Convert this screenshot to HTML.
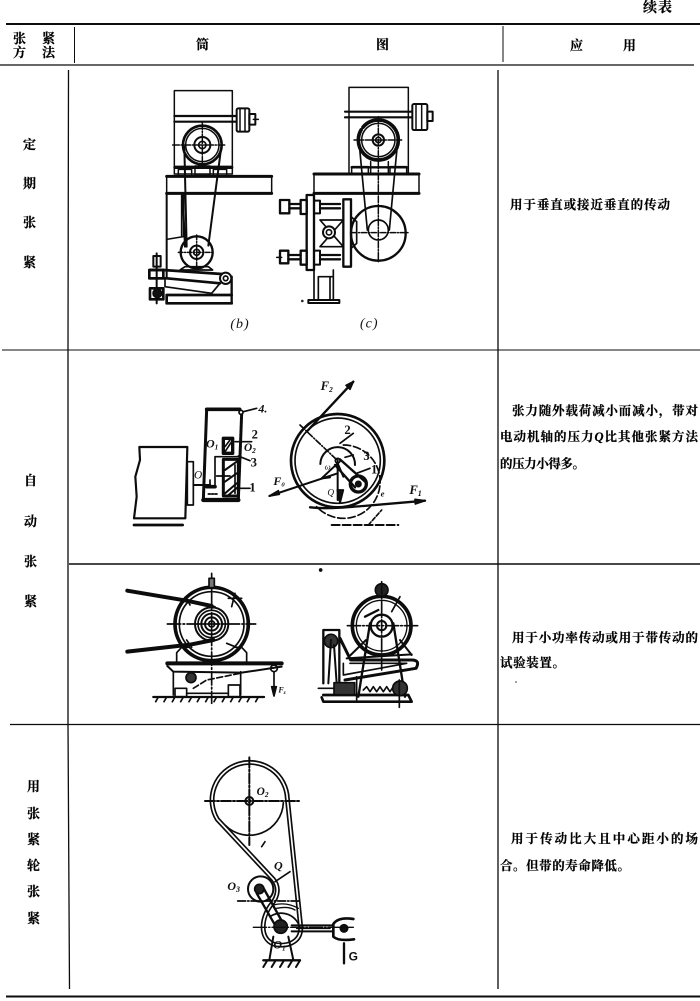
<!DOCTYPE html>
<html lang="zh"><head><meta charset="utf-8"><title>张紧方法</title>
<style>
html,body{margin:0;padding:0;background:#fff}
svg{display:block;filter:blur(.3px)}
.c{font-family:"Liberation Serif","Noto Serif CJK SC",serif;font-weight:700;fill:#000;stroke:#000;stroke-width:.22}
.l{font-family:"Liberation Serif",serif;font-style:italic;font-weight:700;fill:#111}
.d{fill:none;stroke:#0c0c0c;stroke-linecap:round;stroke-linejoin:round}
</style></head><body>
<svg width="700" height="1001" viewBox="0 0 700 1001" xmlns="http://www.w3.org/2000/svg">
<rect width="700" height="1001" fill="#fff"/>
<!-- table -->
<g class="d" style="stroke-linecap:butt">
<path d="M6 24H700" stroke-width="2"/>
<path d="M0 65H694" stroke-width="1.300"/>
<path d="M74.500 27V63M503 26V62" stroke-width="1"/>
<path d="M68.500 70L68 350L68 640L68 724L69.500 989" stroke-width="1.300"/>
<path d="M498 70V989" stroke-width="1.300"/>
<path d="M2 350H700" stroke-width="1.100"/>
<path d="M69 564H700" stroke-width="1.500"/>
<path d="M10 724.500H700" stroke-width="1.200"/>
<path d="M6 996.500H700" stroke-width="2"/>
</g>
<!-- text -->
<g class="c" font-size="13">
<text x="643" y="12" font-size="14" textLength="29">续表</text>
<text x="13" y="43">张</text><text x="42" y="43">紧</text>
<text x="13" y="57">方</text><text x="42" y="57">法</text>
<text x="196" y="49">筒</text><text x="376" y="49">图</text>
<text x="570" y="50">应</text><text x="623" y="50">用</text>
<text x="23" y="149">定</text><text x="23" y="188">期</text><text x="23" y="227">张</text><text x="23" y="267">紧</text>
<text x="24" y="485">自</text><text x="24" y="526">动</text><text x="24" y="566">张</text><text x="24" y="606">紧</text>
<text x="27" y="791">用</text><text x="27" y="818">张</text><text x="27" y="844">紧</text><text x="27" y="870">轮</text><text x="27" y="896">张</text><text x="27" y="923">紧</text>
</g>
<g class="c" font-size="12.500">
<text x="510" y="209" textLength="160" lengthAdjust="spacing">用于垂直或接近垂直的传动</text>
<text x="512" y="415" textLength="186" lengthAdjust="spacing">张力随外载荷减小而减小，带对</text>
<text x="500" y="441" textLength="198" lengthAdjust="spacing">电动机轴的压力<tspan font-style="italic">Q</tspan>比其他张紧方法</text>
<text x="500" y="468" textLength="85" lengthAdjust="spacing">的压力小得多。</text>
<text x="512" y="642" textLength="186" lengthAdjust="spacing">用于小功率传动或用于带传动的</text>
<text x="500" y="667" textLength="65" lengthAdjust="spacing">试验装置。</text>
<text x="511" y="843" textLength="187" lengthAdjust="spacing">用于传动比大且中心距小的场</text>
<text x="500" y="870" textLength="130" lengthAdjust="spacing">合。但带的寿命降低。</text>
</g>

<!-- diagram 1: b, c -->
<g transform="translate(130 80) scale(.33333)">
<g class="d" stroke-width="4.500">
<!-- b -->
<rect x="133" y="32" width="174" height="250"/>
<path d="M133 108H318M133 125H318" stroke-width="6.500"/>
<rect x="320" y="85" width="38" height="70" rx="5" stroke-width="6"/><path d="M330 85V155M345 85V155"/>
<rect x="358" y="102" width="18" height="32" stroke-width="6"/><path d="M370 118H385"/>
<circle cx="217" cy="195" r="58" stroke-width="8"/><circle cx="217" cy="195" r="50"/><circle cx="217" cy="195" r="24" stroke-width="6"/><circle cx="217" cy="195" r="11" stroke-width="5"/>
<path d="M128 195H285M217 128V265" stroke-dasharray="20 5 4 5"/>
<path d="M135 262H305" stroke-width="10"/>
<rect x="145" y="268" width="40" height="20"/><rect x="250" y="268" width="40" height="20"/><rect x="195" y="258" width="45" height="28"/>
<path d="M110 289H425" stroke-width="9"/><path d="M110 340H425" stroke-width="9"/><path d="M110 289V345M425 289V340"/>
<path d="M110 340V590" stroke-width="6"/><path d="M155 342V470M161 342V470" stroke-width="5"/><path d="M110 478L160 470"/>
<path d="M163 200L170 500M158 340L165 500M272 215L235 497" stroke-width="6"/>
<circle cx="200" cy="517" r="48" stroke-width="7"/><circle cx="200" cy="517" r="20" stroke-width="6"/><circle cx="200" cy="517" r="9" stroke-width="5"/>
<path d="M200 465V570M145 517H250" stroke-dasharray="14 5 3 5"/>
<path d="M150 570L165 560H235L248 570Z" stroke-width="5"/>
<path d="M60 570H100L275 582M60 595H110L270 610" stroke-width="8"/>
<path d="M105 598L105 620L245 640L270 610" stroke-width="5"/>
<circle cx="287" cy="595" r="17" stroke-width="6"/><circle cx="287" cy="595" r="7" stroke-width="5"/>
<path d="M305 590V670" stroke-width="7"/>
<path d="M110 645H305M110 670H305M110 645V670" stroke-width="8"/>
<path d="M80 520V670" stroke-width="6"/><rect x="70" y="528" width="22" height="32" stroke-width="6"/>
<rect x="58" y="570" width="42" height="25" stroke-width="8"/><rect x="60" y="625" width="40" height="33" stroke-width="8"/>
<circle cx="82" cy="640" r="13" fill="#111"/>
<!-- c -->
<rect x="657" y="22" width="178" height="260"/>
<path d="M645 95H845M645 112H845" stroke-width="6.500"/>
<rect x="847" y="72" width="45" height="78" rx="5" stroke-width="6"/><path d="M858 72V150M875 72V150"/>
<rect x="892" y="95" width="16" height="28" stroke-width="6"/>
<circle cx="745" cy="180" r="60" stroke-width="11" stroke-dasharray="220 10"/><circle cx="745" cy="180" r="50"/><circle cx="745" cy="180" r="17" stroke-width="6"/><circle cx="745" cy="180" r="8" stroke-width="5"/>
<path d="M672 180H815M745 110V545" stroke-dasharray="20 5 4 5"/>
<path d="M688 195L712 450M802 195L778 450" stroke-width="5"/>
<path d="M665 262H830" stroke-width="7"/><rect x="665" y="260" width="50" height="22"/><rect x="780" y="260" width="50" height="22"/><path d="M722 245V280M775 245V280"/>
<path d="M552 282H867" stroke-width="9"/><path d="M552 340H867" stroke-width="9"/><path d="M552 282V345M867 282V340"/>
<circle cx="745" cy="460" r="82" stroke-width="7"/><path d="M715 450A30 30 0 1 0 775 450" stroke-width="5"/><path d="M715 450A30 30 0 0 1 775 450" stroke-width="5"/>
<path d="M665 458H838" stroke-dasharray="16 5 3 5"/>
<rect x="530" y="345" width="22" height="225" stroke-width="7"/><rect x="640" y="358" width="23" height="202" stroke-width="7"/>
<path d="M663 410L680 425V490L663 505" stroke-width="5"/>
<rect x="450" y="360" width="28" height="40" stroke-width="7"/><rect x="512" y="360" width="18" height="42" stroke-width="7"/><rect x="552" y="362" width="18" height="38" stroke-width="6"/>
<path d="M478 372H512M478 385H512M570 372H630M570 385H630" stroke-width="7" stroke-dasharray="5 2"/>
<rect x="450" y="512" width="25" height="38" stroke-width="7"/><rect x="512" y="512" width="18" height="42" stroke-width="7"/><rect x="552" y="512" width="18" height="42" stroke-width="6"/>
<path d="M475 525H512M475 538H512M570 525H630M570 538H630" stroke-width="7" stroke-dasharray="5 2"/>
<path d="M440 532H455"/>
<path d="M570 420L640 500M570 500L640 420M570 420H640M570 500H640" stroke-width="5"/>
<circle cx="597" cy="457" r="18" stroke-width="6" fill="#fff"/><circle cx="597" cy="457" r="8" stroke-width="5"/>
<path d="M552 570V660M610 570V660M565 590H610M565 590V660M600 590V660" stroke-width="5"/>
<rect x="535" y="660" width="93" height="9" stroke-width="6"/>
<circle cx="517" cy="663" r="1.500"/>
</g>
<text class="l" font-size="42" x="301" y="744" letter-spacing="3" style="font-weight:400">(b)</text>
<text class="l" font-size="42" x="690" y="743" letter-spacing="3" style="font-weight:400">(c)</text>
</g>

<!-- diagram 2 -->
<g transform="translate(110 370) scale(.33333)">
<g class="d" stroke-width="5">
<path d="M88 231H232L226 445H72L80 380L76 320L90 270Z" stroke-width="6.500"/>
<path d="M72 465H218" stroke-width="8"/>
<rect x="232" y="275" width="18" height="130"/><path d="M250 345H300" stroke-width="6"/>
<path d="M290 118H390" stroke-width="11" stroke-dasharray="14 3"/>
<path d="M290 118L280 390" stroke-width="9"/><path d="M280 390H385" stroke-width="13"/>
<path d="M395 130L385 390" stroke-width="9" stroke-dasharray="9 3"/>
<circle cx="393" cy="127" r="6" fill="#fff"/><path d="M400 125L440 115"/>
<path d="M340 205H368V250H340Z" stroke-width="10"/><path d="M345 245L365 215M345 230L360 210" />
<path d="M340 268H385V378H340Z" stroke-width="9"/><path d="M345 300L380 275M345 335L380 310M345 370L380 340M350 380L385 350" stroke-width="6"/>
<path d="M315 345V260H385" stroke-width="5"/><path d="M375 285V370" />
<path d="M290 350H315" stroke-width="11"/><path d="M300 330V345"/><path d="M295 372H325" stroke-dasharray="6 4"/>
<path d="M375 215H425M385 258L420 272M385 355H420M320 318H360"/>
<!-- wheel -->
<circle cx="683" cy="272" r="140" stroke-width="8"/><circle cx="683" cy="272" r="128" stroke-width="5"/>
<path d="M683 272m-52 10A52 52 0 1 1 735 285" stroke-width="6"/>
<path d="M700 225A110 110 0 1 1 620 410" stroke-width="5" stroke-dasharray="22 9"/>
<path d="M590 185L730 35" stroke-width="7"/><path d="M730 35L708 46L720 58Z" fill="#111"/>
<path d="M570 165L683 272" stroke-dasharray="18 6 3 6"/>
<path d="M478 378L683 310" stroke-width="6"/><path d="M478 378L505 362L508 373Z" fill="#111"/>
<path d="M600 412C650 418 700 412 760 408L945 392" stroke-width="7"/><path d="M945 392L915 388L916 402Z" fill="#111"/>
<path d="M635 325L683 280L700 320M635 325L660 322" stroke-width="6"/>
<path d="M690 268L765 335M675 285L735 352" stroke-width="7"/>
<circle cx="745" cy="342" r="24" stroke-width="10"/><circle cx="745" cy="342" r="8" fill="#111"/>
<path d="M683 270V390" stroke-width="6"/><path d="M690 400L682 360L700 360Z" fill="#111"/>
<circle cx="683" cy="272" r="7"/>
<path d="M665 465H865" stroke-width="6" stroke-dasharray="24 9"/>
<path d="M775 465L815 420" stroke-width="5" stroke-dasharray="12 6"/>
<path d="M690 220L730 190M740 310L780 295M705 262L730 255"/>
</g>
<g class="l" font-size="38">
<text x="445" y="128" font-size="36">4.</text>
<text x="425" y="205" style="font-style:normal">2</text>
<text x="422" y="290" style="font-style:normal">3</text>
<text x="418" y="365" style="font-style:normal">1</text>
<text x="288" y="232" font-size="36">O<tspan font-size="22" dy="6">1</tspan></text>
<text x="402" y="243" font-size="34">O<tspan font-size="22" dy="6">2</tspan></text>
<text x="252" y="325" font-size="34" style="font-weight:400">O</text>
<text x="632" y="60" font-size="38">F<tspan font-size="22" dy="6">2</tspan></text>
<text x="703" y="192" style="font-style:normal">2</text>
<text x="760" y="270" style="font-style:normal">3</text>
<text x="783" y="310" style="font-style:normal">1</text>
<text x="644" y="298" font-size="26" style="font-weight:400">ω</text>
<text x="652" y="376" font-size="28" style="font-weight:400">Q</text>
<text x="490" y="345" font-size="36">F<tspan font-size="20" dy="4">0</tspan></text>
<text x="812" y="380" font-size="26">e</text>
<text x="898" y="372" font-size="38">F<tspan font-size="24" dy="6">1</tspan></text>
</g>
</g>

<!-- diagram 3 -->
<g transform="translate(110 560) scale(.33333)">
<g class="d" stroke-width="5">
<circle cx="632" cy="30" r="3" fill="#111"/>
<circle cx="305" cy="192" r="110" stroke-width="11"/><circle cx="305" cy="192" r="97" stroke-width="5"/>
<circle cx="305" cy="192" r="50" stroke-width="6"/><circle cx="305" cy="192" r="41"/><circle cx="305" cy="192" r="31" stroke-width="6"/><circle cx="305" cy="192" r="20" stroke-width="6"/><circle cx="305" cy="192" r="9"/>
<path d="M172 192H437M305 40V430" stroke-dasharray="40 7 5 7"/>
<rect x="297" y="55" width="16" height="28" fill="#777"/>
<path d="M52 92L230 122L305 138" stroke-width="12"/><path d="M230 122L315 140" stroke-width="5"/>
<path d="M52 275L240 254L310 240" stroke-width="12"/>
<path d="M355 115L395 115M375 100L365 140M350 250L380 262" />
<path d="M228 112L240 135M230 240L245 262"/>
<path d="M172 310H515" stroke-width="12"/><path d="M172 318L190 335L395 338L515 320" stroke-width="6"/>
<path d="M200 305V278L215 262H235M410 305V278L395 262H375" stroke-width="5"/>
<path d="M190 335V405M392 335V405"/><rect x="195" y="385" width="35" height="25"/><rect x="355" y="375" width="35" height="35"/><path d="M230 400H355"/>
<path d="M130 411H462" stroke-width="7"/>
<path d="M145 411l-8 14M170 411l-8 14M195 411l-8 14M220 411l-8 14M245 411l-8 14M270 411l-8 14M295 411l-8 14M320 411l-8 14M345 411l-8 14M370 411l-8 14M395 411l-8 14M420 411l-8 14M445 411l-8 14"/>
<circle cx="243" cy="353" r="15" fill="#333"/>
<path d="M250 385L290 360L390 340" stroke-dasharray="18 8"/>
<circle cx="492" cy="325" r="10"/><path d="M492 335V405"/><path d="M492 408L485 380H499Z" fill="#111"/>
<!-- right -->
<circle cx="815" cy="197" r="88" stroke-width="11"/><circle cx="815" cy="197" r="76" stroke-width="4"/>
<circle cx="815" cy="197" r="33" stroke-width="7"/><circle cx="815" cy="197" r="14" stroke-width="6"/>
<path d="M765 170L805 150" stroke-width="7"/><path d="M845 155L870 110"/>
<circle cx="815" cy="90" r="19" fill="#222"/>
<path d="M712 197H925M815 65V330" stroke-dasharray="40 6 5 6"/>
<path d="M780 190L745 410M850 190L885 410" stroke-width="7"/>
<path d="M640 210H688V370M640 210V370" stroke-width="7"/><circle cx="663" cy="243" r="20" fill="#333"/><path d="M663 240L655 370M672 255L680 370" stroke-width="6"/>
<path d="M690 235L722 300H905Q932 300 918 325L705 360" stroke-width="9"/>
<path d="M720 310H890L700 345V310" stroke-width="5"/>
<path d="M722 285L768 240M905 285L870 240M710 295L905 283" stroke-width="6"/>
<path d="M635 412L640 425H905L895 405H640" stroke-width="8"/>
<path d="M625 385H680M760 390l10 -10l10 15l10 -15l10 15l10 -15l10 15l10 -15l10 15l10 -15l10 10" stroke-width="5"/>
<rect x="672" y="368" width="62" height="36" fill="#333"/>
<circle cx="870" cy="385" r="22" fill="#333"/><path d="M868 360V442"/><path d="M740 350V420"/>
</g>
<text class="l" font-size="24" x="505" y="398">F<tspan font-size="16" dy="4">z</tspan></text>
</g>
<circle cx="516" cy="682" r=".8" fill="#333"/>

<!-- diagram 4 -->
<g transform="translate(190 740) scale(.33333)">
<g class="d" stroke-width="5">
<path d="M250 418C268 440 265 468 245 492C215 530 205 592 250 612C285 622 335 610 332 560L292 175A113 113 0 1 0 82 238Z" stroke-width="15"/>
<path d="M250 418C268 440 265 468 245 492C215 530 205 592 250 612C285 622 335 610 332 560L292 175A113 113 0 1 0 82 238Z" stroke="#fff" stroke-width="5"/>
<path d="M106 256A102 102 0 0 0 280 188" stroke-width="5"/>
<circle cx="178" cy="183" r="12" stroke-width="6"/><circle cx="178" cy="183" r="5" fill="#fff" stroke-width="2"/>
<path d="M45 183H330M178 52V315" stroke-dasharray="30 6 6 6" stroke-width="6"/>
<path d="M215 320L225 305"/>
<circle cx="212" cy="447" r="38" stroke-width="6"/><circle cx="208" cy="447" r="14" fill="#222"/>
<path d="M200 460L258 560M222 447L282 555" stroke-width="7"/>
<path d="M255 425L300 395"/>
<path d="M143 483H330" stroke-dasharray="24 6 4 6"/>
<path d="M250 495Q290 485 325 505M260 505Q295 498 315 510" stroke-width="4"/>
<path d="M240 530A58 58 0 0 1 330 565" stroke-width="5"/>
<circle cx="272" cy="560" r="20" fill="#222"/>
<path d="M250 590L238 660M295 590L310 660" stroke-width="6"/>
<path d="M220 661H330" stroke-width="7"/>
<path d="M232 661l-12 20M257 661l-12 20M282 661l-12 20M307 661l-12 20M330 661l-12 20" stroke-width="6"/>
<path d="M305 556H430M305 574H430" stroke-width="6"/><path d="M320 565H420" stroke-width="5" stroke-dasharray="12 3"/>
<path d="M490 537Q445 530 430 552V590Q445 604 492 598" stroke-width="8"/>
<circle cx="462" cy="565" r="11" fill="#111"/>
<path d="M190 562H490" stroke-width="4" stroke-dasharray="40 6 4 6"/>
<path d="M462 610V670" stroke-width="7"/>
</g>
<g class="l">
<text x="200" y="165" font-size="34">O<tspan font-size="22" dy="6">2</tspan></text>
<text x="112" y="450" font-size="36">O<tspan font-size="24" dy="6">3</tspan></text>
<text x="250" y="625" font-size="36">O<tspan font-size="22" dy="6">1</tspan></text>
<text x="252" y="388" font-size="36">Q</text>
<text x="476" y="662" font-size="36" style="font-style:normal;font-family:'Liberation Sans',sans-serif">G</text>
</g>
</g>
</svg>
</body></html>
